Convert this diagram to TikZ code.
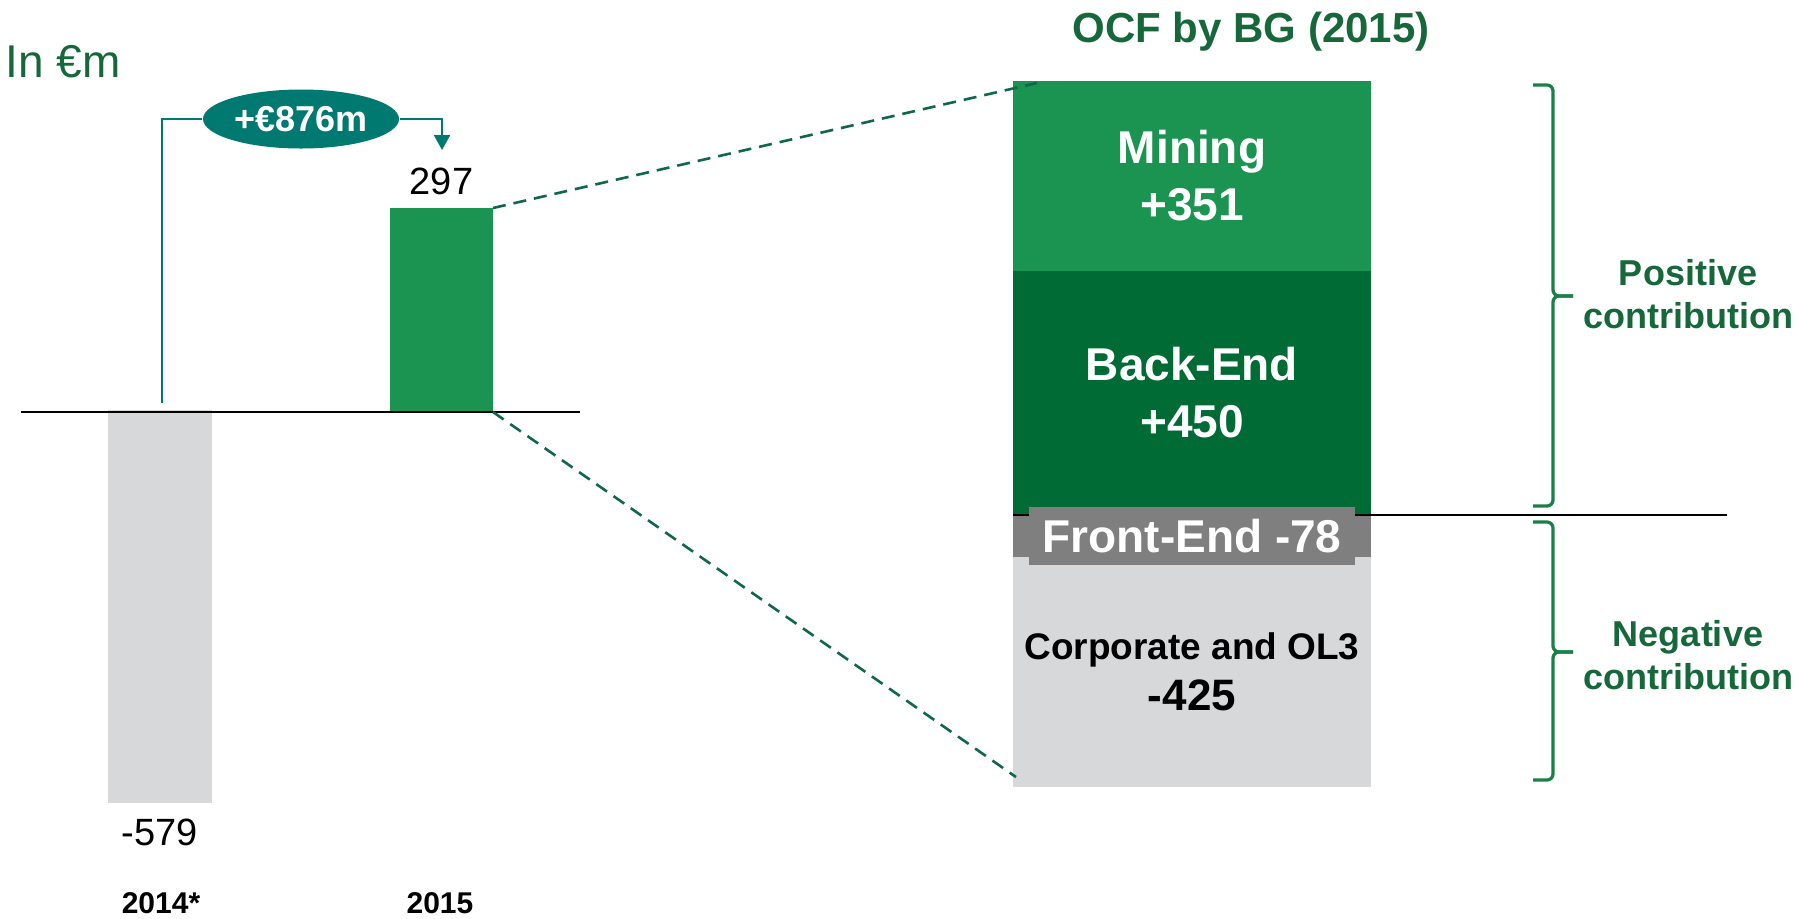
\documentclass[tikz,border=0pt]{standalone}
\usepackage{fontspec}
\setmainfont{Liberation Sans}
\usetikzlibrary{positioning,arrows.meta,shapes.geometric,calc}
\definecolor{ocfgreen}{RGB}{26,148,80}
\definecolor{ocfdark}{RGB}{0,107,53}
\definecolor{ocfgray}{RGB}{215,216,218}
\definecolor{ocfmid}{RGB}{127,127,127}
\definecolor{ocfteal}{RGB}{0,122,112}
\definecolor{ocftext}{RGB}{22,104,58}
\definecolor{ocfbrace}{RGB}{26,128,72}
\definecolor{ocfzoom}{RGB}{16,104,72}

\begin{document}
\begin{tikzpicture}[x=0.5pt,y=-0.5pt,semithick,align=center,
    box/.style={inner sep=0pt,outer sep=0pt,minimum width=179pt},
    barbox/.style={inner sep=0pt,outer sep=0pt,minimum width=52pt},
    val/.style={inner sep=0pt,font=\fontsize{19}{23}\selectfont},
    yearlabel/.style={inner sep=0pt,anchor=base,font=\bfseries\fontsize{15}{18}\selectfont},
    seg/.style={text=white,font=\bfseries\fontsize{23}{28.5}\selectfont},
    note/.style={text=ocftext,font=\bfseries\fontsize{18}{21.5}\selectfont},
    zoomline/.style={ocfzoom,dash pattern=on 6.5pt off 4pt,line width=1.3pt},
    curly/.style={ocfbrace,line width=1.6pt,rounded corners=3pt}]
      \useasboundingbox (0,0) rectangle (1798,918);

      % left chart
      \node[barbox,fill=ocfgray,minimum height=196.5pt,anchor=north west] (bar14) at (108,410) {};
      \node[barbox,fill=ocfgreen,minimum width=51.5pt,minimum height=102pt,anchor=south west] (bar15) at (390,412) {};
      \draw[line width=1pt] (21,412) -- (580,412);
      \node[val,above=6.5pt of bar15] (v15) {297};
      \node[val,below=7.5pt of bar14] (v14) {-579};
      \node[yearlabel] (y14) at (161,913) {2014*};
      \node[yearlabel] (y15) at (440,913) {2015};
      \node[anchor=base west,inner sep=0pt,text=ocftext,font=\fontsize{23}{28}\selectfont] (unit) at (5,77) {In €m};

      \node[ellipse,fill=ocfteal,text=white,inner sep=0pt,minimum width=98pt,minimum height=29.5pt,
        font=\bfseries\fontsize{18}{22}\selectfont] (delta) at (301,119) {+€876m};
      \coordinate (from14) at (162,403);
      \coordinate (to15) at (442,150);
      \draw[ocfteal,line width=1.2pt] (from14) |- (delta.west);
      \draw[ocfteal,line width=1.2pt,-{Triangle[width=8pt,length=7.5pt]}] (delta.east) -| (to15);

      % right chart
      \node[anchor=base,inner sep=0pt,text=ocftext,font=\bfseries\fontsize{21}{25}\selectfont] (title) at (1251,42) {OCF by BG (2015)};
      \node[box,seg,fill=ocfgreen,minimum height=95pt,anchor=north west] (mining) at (1013,81) {Mining\\+351};
      \node[box,seg,fill=ocfdark,minimum height=122pt,below=0pt of mining] (backend) {Back-End\\+450};
      \node[box,fill=ocfmid,minimum height=21pt,below=0pt of backend] (feband) {};
      \node[box,fill=ocfgray,minimum height=115pt,below=0pt of feband,font=\bfseries\fontsize{18.5}{25.5}\selectfont] (corp)
        {Corporate and OL3\\{\fontsize{22}{25.5}\selectfont -425}};
      \draw[line width=1pt] (feband.north west) -- (1727,515);
      \node[fill=ocfmid,text=white,inner sep=0pt,minimum width=163pt,minimum height=29pt,
        font=\bfseries\fontsize{23}{28}\selectfont] (fe) at (1192,536) {Front-End -78};

      \draw[zoomline] (bar15.north east) -- ([xshift=12pt,yshift=-1pt]mining.north west);
      \draw[zoomline] (bar15.south east) -- ([xshift=1.5pt,yshift=5pt]corp.south west);

      % braces
      \draw[curly] (1533,85) -- (1553,85) -- (1553,296) -- (1573,296);
      \draw[curly] (1573,296) -- (1553,296) -- (1553,506) -- (1533,506);
      \draw[curly] (1533,522) -- (1553,522) -- (1553,652) -- (1573,652);
      \draw[curly] (1573,652) -- (1553,652) -- (1553,780) -- (1533,780);
      \node[note] (pos) at (1688,294) {Positive\\contribution};
      \node[note] (neg) at (1688,655) {Negative\\contribution};
    \end{tikzpicture}
\end{document}
